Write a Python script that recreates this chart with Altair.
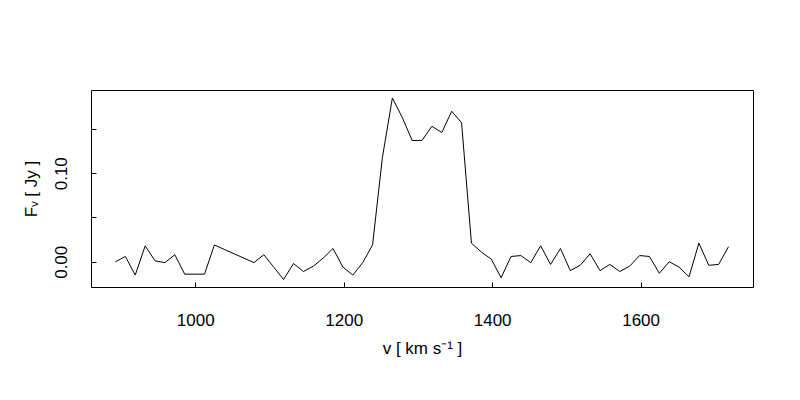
import altair as alt
import pandas as pd

velocity = [892.6, 905.9, 919.2, 932.6, 945.9, 959.2, 972.5, 985.8, 999.2, 1012.5,
            1025.8, 1039.1, 1052.4, 1065.8, 1079.1, 1092.4, 1105.7, 1119.0, 1132.4, 1145.7,
            1159.0, 1172.3, 1185.6, 1199.0, 1212.3, 1225.6, 1238.9, 1252.2, 1265.6, 1278.9,
            1292.2, 1305.5, 1318.8, 1332.2, 1345.5, 1358.8, 1372.1, 1385.4, 1398.8, 1412.1,
            1425.4, 1438.7, 1452.0, 1465.4, 1478.7, 1492.0, 1505.3, 1518.6, 1532.0, 1545.3,
            1558.6, 1571.9, 1585.2, 1598.6, 1611.9, 1625.2, 1638.5, 1651.8, 1665.2, 1678.5,
            1691.8, 1705.1, 1718.4]
flux = [0.000, 0.006, -0.015, 0.018, 0.001, -0.001, 0.008, -0.014, -0.014, -0.014,
        0.019, 0.014, 0.009, 0.004, -0.001, 0.008, -0.006, -0.020, -0.002, -0.011,
        -0.005, 0.004, 0.015, -0.006, -0.015, -0.001, 0.019, 0.118, 0.185, 0.163,
        0.137, 0.137, 0.153, 0.146, 0.170, 0.157, 0.021, 0.011, 0.003, -0.018,
        0.006, 0.007, -0.001, 0.018, -0.003, 0.015, -0.010, -0.004, 0.009, -0.010,
        -0.003, -0.011, -0.005, 0.007, 0.006, -0.013, 0.000, -0.006, -0.017, 0.021,
        -0.004, -0.003, 0.017]

x_ticks = [1000, 1200, 1400, 1600]
y_ticks = [0.0, 0.05, 0.10, 0.15]
x_domain = [859.6, 1751.4]
y_domain = [-0.0285, 0.194]

df = pd.DataFrame({"v": velocity, "f": flux})
FONT = "Liberation Sans"

chart = alt.Chart(df).mark_line(color="black", strokeWidth=1).encode(
    x=alt.X("v:Q",
            scale=alt.Scale(domain=x_domain, nice=False, zero=False),
            axis=alt.Axis(values=x_ticks, format="d", offset=-5, tickSize=5, tickColor="black",
                          domain=False, grid=False, labelFont=FONT, labelFontSize=17,
                          labelColor="black", labelPadding=25, labelBaseline="top",
                          title="v [ km s⁻¹ ]", titleFont=FONT, titleFontSize=17,
                          titleFontWeight="normal", titleColor="black", titlePadding=12)),
    y=alt.Y("f:Q",
            scale=alt.Scale(domain=y_domain, nice=False, zero=False),
            axis=alt.Axis(values=y_ticks, offset=-5, tickSize=5, tickColor="black",
                          domain=False, grid=False, labelFont=FONT, labelFontSize=17,
                          labelColor="black", labelAngle=270, labelAlign="center",
                          labelBaseline="alphabetic", labelPadding=25,
                          labelExpr="(abs(datum.value) < 1e-9 || abs(datum.value - 0.1) < 1e-9) ? format(datum.value, '.2f') : ''",
                          title="Fᵥ [ Jy ]", titleFont=FONT, titleFontSize=17,
                          titleFontWeight="normal", titleColor="black", titlePadding=12)),
).properties(
    width=662, height=197,
    autosize=alt.AutoSizeParams(type="none"),
    padding={"left": 83, "top": 82, "right": 30, "bottom": 100},
    background="white",
).configure_view(stroke="black", strokeWidth=1)

chart.save("out.html", embed_options={"renderer": "svg", "actions": False})
